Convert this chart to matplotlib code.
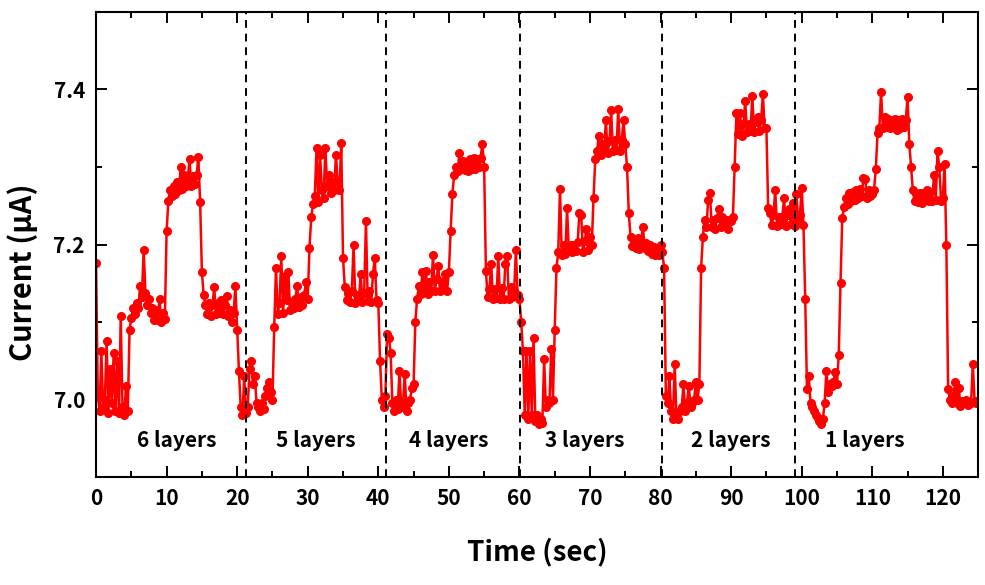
import numpy as np
import matplotlib
matplotlib.use('Agg')
import matplotlib.pyplot as plt
from matplotlib.ticker import MultipleLocator, FormatStrFormatter

plt.rcParams['font.family'] = ['Noto Sans CJK KR', 'DejaVu Sans']
plt.rcParams['font.weight'] = 'bold'

# current readings (uA), one value every 0.25 s, in 5 s chunks
dt = 0.25
c00 = [7.176, 7.005, 6.985, 7.063, 6.99, 7.0, 7.076, 6.982, 7.04, 6.995, 7.06, 6.985, 7.05, 6.982, 7.108, 6.99, 6.98, 7.018, 6.985, 7.09]
c05 = [7.105, 7.118, 7.11, 7.125, 7.118, 7.147, 7.132, 7.193, 7.138, 7.122, 7.13, 7.112, 7.118, 7.102, 7.115, 7.103, 7.13, 7.1, 7.112, 7.104]
c10 = [7.217, 7.256, 7.27, 7.262, 7.275, 7.265, 7.28, 7.27, 7.30, 7.272, 7.29, 7.275, 7.285, 7.31, 7.276, 7.288, 7.278, 7.29, 7.313, 7.255]
c15 = [7.165, 7.135, 7.122, 7.11, 7.125, 7.108, 7.122, 7.145, 7.11, 7.124, 7.112, 7.128, 7.11, 7.122, 7.134, 7.108, 7.115, 7.1, 7.112, 7.146]
c20 = [7.09, 7.037, 6.99, 6.98, 7.03, 6.982, 6.99, 7.04, 7.05, 7.02, 7.03, 6.995, 6.99, 6.985, 6.995, 6.988, 7.005, 7.015, 7.022, 7.01]
c25 = [7.0, 7.093, 7.17, 7.11, 7.125, 7.185, 7.112, 7.16, 7.128, 7.164, 7.115, 7.125, 7.118, 7.13, 7.146, 7.12, 7.132, 7.122, 7.135, 7.152]
c30 = [7.13, 7.196, 7.235, 7.252, 7.262, 7.325, 7.255, 7.316, 7.27, 7.26, 7.325, 7.275, 7.29, 7.266, 7.28, 7.27, 7.316, 7.28, 7.27, 7.331]
c35 = [7.183, 7.145, 7.128, 7.138, 7.126, 7.14, 7.2, 7.125, 7.135, 7.128, 7.162, 7.126, 7.138, 7.23, 7.127, 7.14, 7.126, 7.162, 7.183, 7.128]
c40 = [7.125, 7.05, 7.0, 6.99, 7.005, 7.085, 7.08, 7.06, 6.995, 6.985, 7.0, 6.988, 7.037, 6.99, 6.995, 7.033, 6.985, 6.995, 7.0, 7.015]
c45 = [7.02, 7.1, 7.13, 7.146, 7.136, 7.164, 7.14, 7.166, 7.136, 7.152, 7.14, 7.187, 7.14, 7.155, 7.172, 7.14, 7.152, 7.142, 7.162, 7.14]
c50 = [7.165, 7.217, 7.265, 7.29, 7.3, 7.295, 7.318, 7.298, 7.308, 7.296, 7.306, 7.295, 7.31, 7.297, 7.312, 7.298, 7.31, 7.3, 7.312, 7.33]
c55 = [7.3, 7.166, 7.132, 7.142, 7.175, 7.13, 7.142, 7.131, 7.185, 7.13, 7.144, 7.13, 7.175, 7.185, 7.13, 7.145, 7.132, 7.14, 7.193, 7.135]
c60 = [7.13, 7.1, 7.063, 6.98, 7.063, 6.975, 7.063, 6.98, 7.08, 6.972, 6.98, 6.968, 6.975, 6.97, 7.052, 6.99, 7.0, 6.995, 7.065, 7.0]
c65 = [7.09, 7.17, 7.19, 7.272, 7.186, 7.2, 7.188, 7.247, 7.192, 7.2, 7.19, 7.2, 7.192, 7.203, 7.241, 7.238, 7.19, 7.204, 7.22, 7.193]
c70 = [7.21, 7.2, 7.26, 7.31, 7.32, 7.34, 7.316, 7.33, 7.32, 7.36, 7.318, 7.333, 7.373, 7.32, 7.335, 7.322, 7.375, 7.32, 7.335, 7.36]
c75 = [7.33, 7.3, 7.24, 7.21, 7.198, 7.205, 7.195, 7.208, 7.194, 7.205, 7.222, 7.196, 7.202, 7.192, 7.2, 7.188, 7.197, 7.186, 7.195, 7.186]
c80 = [7.2, 7.19, 7.17, 7.005, 6.995, 7.03, 6.985, 6.975, 7.046, 6.98, 6.975, 6.985, 6.99, 7.02, 6.985, 6.995, 7.018, 6.99, 6.995, 7.0]
c85 = [7.022, 7.0, 7.02, 7.17, 7.21, 7.232, 7.222, 7.258, 7.266, 7.222, 7.232, 7.22, 7.234, 7.246, 7.222, 7.235, 7.224, 7.232, 7.22, 7.232]
c90 = [7.23, 7.235, 7.3, 7.37, 7.342, 7.37, 7.34, 7.355, 7.385, 7.345, 7.356, 7.346, 7.392, 7.345, 7.358, 7.365, 7.346, 7.36, 7.394, 7.35]
c95 = [7.35, 7.247, 7.24, 7.225, 7.238, 7.27, 7.224, 7.236, 7.226, 7.235, 7.26, 7.224, 7.238, 7.246, 7.226, 7.254, 7.224, 7.265, 7.232, 7.238]
c100 = [7.273, 7.225, 7.13, 7.014, 7.03, 6.995, 6.99, 6.985, 6.98, 6.976, 6.972, 6.968, 6.975, 6.995, 7.037, 7.01, 7.02, 7.018, 7.022, 7.036]
c105 = [7.02, 7.057, 7.15, 7.234, 7.248, 7.26, 7.252, 7.266, 7.256, 7.268, 7.258, 7.27, 7.26, 7.272, 7.262, 7.286, 7.285, 7.26, 7.27, 7.262]
c110 = [7.265, 7.27, 7.297, 7.344, 7.35, 7.397, 7.35, 7.365, 7.352, 7.362, 7.35, 7.36, 7.352, 7.362, 7.348, 7.36, 7.35, 7.362, 7.352, 7.36]
c115 = [7.39, 7.33, 7.3, 7.27, 7.256, 7.266, 7.255, 7.267, 7.254, 7.266, 7.258, 7.27, 7.256, 7.268, 7.256, 7.29, 7.258, 7.32, 7.30, 7.256]
c120 = [7.26, 7.304, 7.2, 7.014, 7.0, 6.995, 7.005, 7.022, 6.995, 7.015, 6.992, 6.998, 6.995, 7.0, 6.993, 6.997, 6.995, 7.046, 6.998, 6.995, 6.998]

chunks = [c00, c05, c10, c15, c20, c25, c30, c35, c40, c45, c50, c55,
          c60, c65, c70, c75, c80, c85, c90, c95, c100, c105, c110, c115, c120]
current = np.concatenate(chunks)
time = dt * np.arange(len(current))

# layer boundaries (sec) and labels
boundaries = [21.3, 41.1, 60.1, 80.2, 99.1]
layer_labels = ['6 layers', '5 layers', '4 layers', '3 layers', '2 layers', '1 layers']
label_x = [11.5, 31.1, 50.0, 69.2, 90.0, 108.9]
label_y = 6.947

fig = plt.figure(figsize=(9.85, 5.85), dpi=100)
ax = fig.add_axes([0.0975, 0.1846, 0.8955, 0.7949])

ax.plot(time, current, '-o', color='#ff0000', lw=1.8, ms=5.5, mec='#ff0000', mfc='#ff0000')
for b in boundaries:
    ax.axvline(b, color='k', ls=(0, (4, 3)), lw=1.4)
for x, s in zip(label_x, layer_labels):
    ax.text(x, label_y, s, ha='center', va='center', fontsize=15, fontweight='bold')

ax.set_xlim(0, 125)
ax.set_ylim(6.9, 7.5)
ax.xaxis.set_major_locator(MultipleLocator(10))
ax.xaxis.set_minor_locator(MultipleLocator(5))
ax.yaxis.set_major_locator(MultipleLocator(0.2))
ax.yaxis.set_minor_locator(MultipleLocator(0.1))
ax.yaxis.set_major_formatter(FormatStrFormatter('%.1f'))
ax.tick_params(which='both', direction='in', top=True, right=True, width=1.4)
ax.tick_params(which='major', length=8, labelsize=15, pad=8)
ax.tick_params(which='minor', length=4.5)
for sp in ax.spines.values():
    sp.set_linewidth(1.5)
for lab in ax.get_xticklabels() + ax.get_yticklabels():
    lab.set_fontweight('bold')

ax.set_xlabel('Time (sec)', fontsize=20, fontweight='bold')
ax.set_ylabel('Current (μA)', fontsize=21, fontweight='bold')
ax.xaxis.set_label_coords(0.5, -0.131)
ax.yaxis.set_label_coords(-0.066, 0.44)

fig.savefig('out.png', dpi=100)
